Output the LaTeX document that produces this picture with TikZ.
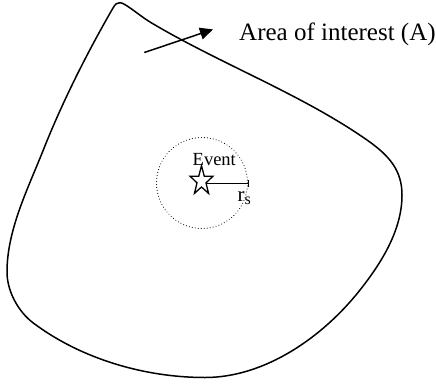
\documentclass[tikz,border=0pt]{standalone}
\usepackage{fontspec}
\setmainfont{Liberation Serif}
\usetikzlibrary{arrows.meta}
\tikzset{
  outline/.style={line width=1.5pt, line join=round},
  ptr/.style={line width=1.5pt, -{Triangle[length=13pt,width=12pt]}},
  zone/.style={line width=1.1pt, line cap=round, dash pattern=on 0.01pt off 3pt},
  radius line/.style={line width=1.5pt},
  lbl/.style={inner sep=0pt, anchor=base west}
}
\begin{document}
\begin{tikzpicture}[x=1pt,y=-1pt]
\useasboundingbox (0,0) rectangle (436,386);
% area of interest outline
\draw[outline] (120,2.7)
  .. controls (125,2.7) and (139.7,15.8) .. (150,22)
  .. controls (218.6,63.1) and (301.5,94.2) .. (367,140)
  .. controls (390,156) and (402,171) .. (402,195)
  .. controls (402,230) and (381.7,262.5) .. (360,290)
  .. controls (322.8,337.1) and (265,377.5) .. (205,377.5)
  .. controls (145,377.5) and (81.3,359) .. (33.3,323)
  .. controls (18.1,311.6) and (7,291) .. (7,272)
  .. controls (7,230) and (27.8,189) .. (43.3,150)
  .. controls (62.5,101.6) and (87,53) .. (113,8)
  .. controls (115.5,3.7) and (117,2.7) .. (120,2.7) -- cycle;
% arrow and label
\coordinate (a0) at (144.3,52.5);
\coordinate (a1) at (213,29.4);
\draw[ptr] (a0) -- (a1);
\node[lbl] (area) at (239,40.8) {\fontsize{25}{30}\selectfont Area of interest (A)};
% dotted sensing circle
\coordinate (c) at (202,183);
\draw[zone] (c) circle (45.5);
% star
\draw[line width=1.3pt, line join=miter]
  plot[samples at={0,...,9}, variable=\k]
  ({201.5+ifthenelse(mod(\k,2)==0,12,4.7)*sin(36*\k)},
   {181-ifthenelse(mod(\k,2)==0,15.3,6.0)*cos(36*\k)}) -- cycle;
% radius
\coordinate (r0) at (207,183.5);
\coordinate (r1) at (248,183.5);
\draw[radius line] (r0) -- (r1);
\draw[line width=1pt] ([yshift=-3.5pt]r1) -- ([yshift=3.5pt]r1);
\node[lbl] (ev) at (192.5,165.3) {\fontsize{18.5}{20}\selectfont Event};
\node[lbl] (rs) at (237.5,201.5) {\fontsize{21}{22}\selectfont r\raisebox{-3pt}{\fontsize{16}{16}\selectfont s}};
\end{tikzpicture}
\end{document}
